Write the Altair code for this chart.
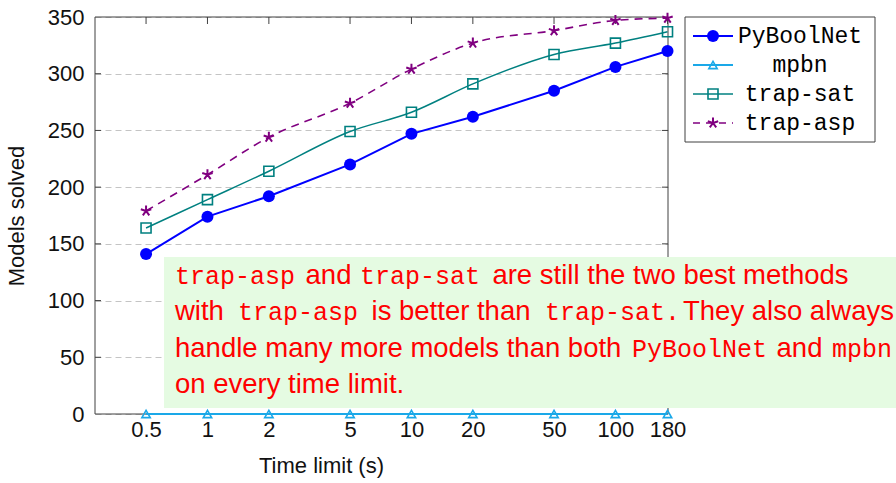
import altair as alt
import pandas as pd

# ---------------- data ----------------
time_limits = [0.5, 1, 2, 5, 10, 20, 50, 100, 180]
pyboolnet = [141, 174, 192, 220, 247, 262, 285, 306, 320]
mpbn = [0, 0, 0, 0, 0, 0, 0, 0, 0]
trap_sat = [164, 189, 214, 249, 266, 291, 317, 327, 337]
trap_asp = [179, 211, 244, 274, 304, 327, 338, 347, 349]
series_names = ["PyBoolNet", "mpbn", "trap-sat", "trap-asp"]
series_values = [pyboolnet, mpbn, trap_sat, trap_asp]
y_tick_values = [0, 50, 100, 150, 200, 250, 300, 350]

# ---------------- layout / style ----------------
W, H = 573, 397
PAD = {"left": 95, "top": 17, "right": 228, "bottom": 69}
SANS = "Liberation Sans"
MONO = "Liberation Mono"
FRAME = "#404040"
STAR = "M0,0L0,-1M0,0L0.951,-0.309M0,0L0.588,0.809M0,0L-0.588,0.809M0,0L-0.951,-0.309"

styles = {
    "PyBoolNet": dict(color="#0000ff", width=2, dash=None, interp="linear",
                      shape="circle", filled=True, size=144, sw=1),
    "mpbn": dict(color="#1aa8e8", width=2, dash=None, interp="linear",
                 shape="triangle-up", filled=False, size=70, sw=1.6),
    "trap-sat": dict(color="#008080", width=1.5, dash=None, interp="monotone",
                     shape="square", filled=False, size=100, sw=1.6),
    "trap-asp": dict(color="#800080", width=1.6, dash=[8, 6], interp="monotone",
                     shape=STAR, filled=False, size=120, sw=2),
}

xscale = alt.Scale(type="log", domain=[0.281, 181], nice=False)
yscale = alt.Scale(domain=[0, 350], nice=False, zero=False)

X_AX = alt.Axis(values=time_limits, format="~g", title="Time limit (s)",
                grid=False, ticks=False, domain=False, labelFont=SANS,
                labelFontSize=22, labelColor="#111", labelPadding=5,
                labelFlush=False, labelOverlap=False,
                titleFont=SANS, titleFontSize=22, titleFontWeight="normal",
                titleColor="#111", titleX=226, titleY=41, titleBaseline="top",
                titleAlign="center")
Y_AX = alt.Axis(values=y_tick_values, title="Models solved", grid=True,
                gridDash=[6, 4], gridColor="#c4c4c4", gridWidth=1,
                ticks=False, domain=False, labelFont=SANS, labelFontSize=22,
                labelColor="#111", labelPadding=11, labelFlush=False,
                titleFont=SANS, titleFontSize=22, titleFontWeight="normal",
                titleColor="#111", titlePadding=19)

one = pd.DataFrame({"k": [0]})

# ---------------- main plot ----------------
main_layers = []

frame_specs = [
    dict(x=alt.value(0), x2=alt.value(0), y=alt.value(0), y2=alt.value(H)),
    dict(x=alt.value(W), x2=alt.value(W), y=alt.value(0), y2=alt.value(H)),
    dict(x=alt.value(0), x2=alt.value(W), y=alt.value(0), y2=alt.value(0)),
    dict(x=alt.value(0), x2=alt.value(W), y=alt.value(H), y2=alt.value(H)),
]
for spec in frame_specs:
    main_layers.append(alt.Chart(one).mark_rule(color=FRAME, strokeWidth=1).encode(**spec))

tick_x_df = pd.DataFrame({"t": time_limits})
tick_y_df = pd.DataFrame({"v": y_tick_values[1:-1]})
main_layers.append(
    alt.Chart(tick_x_df).mark_rule(color=FRAME, strokeWidth=1).encode(
        x=alt.X("t:Q", scale=xscale, axis=X_AX), y=alt.value(0), y2=alt.value(7)))
main_layers.append(
    alt.Chart(tick_y_df).mark_rule(color=FRAME, strokeWidth=1).encode(
        y=alt.Y("v:Q", scale=yscale, axis=Y_AX), x=alt.value(0), x2=alt.value(6)))
main_layers.append(
    alt.Chart(tick_y_df).mark_rule(color=FRAME, strokeWidth=1).encode(
        y=alt.Y("v:Q", scale=yscale, axis=Y_AX), x=alt.value(W - 6), x2=alt.value(W)))

for name, vals in zip(series_names, series_values):
    st = styles[name]
    df = pd.DataFrame({"t": time_limits, "v": vals})
    enc = dict(x=alt.X("t:Q", scale=xscale, axis=X_AX),
               y=alt.Y("v:Q", scale=yscale, axis=Y_AX))
    line_kw = dict(color=st["color"], strokeWidth=st["width"], interpolate=st["interp"])
    if st["dash"]:
        line_kw["strokeDash"] = st["dash"]
    main_layers.append(alt.Chart(df).mark_line(**line_kw).encode(**enc))

for name, vals in zip(series_names, series_values):
    st = styles[name]
    df = pd.DataFrame({"t": time_limits, "v": vals})
    enc = dict(x=alt.X("t:Q", scale=xscale, axis=X_AX),
               y=alt.Y("v:Q", scale=yscale, axis=Y_AX))
    main_layers.append(alt.Chart(df).mark_point(
        shape=st["shape"], filled=st["filled"], color=st["color"], size=st["size"],
        strokeWidth=st["sw"], opacity=1).encode(**enc))

main = alt.layer(*main_layers)

# ---------------- legend ----------------
leg_y = alt.Scale(domain=[0, 3], range=[19, 106])
leg_layers = [alt.Chart(one).mark_rect(fill="white", stroke=FRAME, strokeWidth=1).encode(
    x=alt.value(590), x2=alt.value(780), y=alt.value(0), y2=alt.value(125))]
for i, name in enumerate(series_names):
    st = styles[name]
    df = pd.DataFrame({"row": [i], "name": [name]})
    yenc = alt.Y("row:Q", scale=leg_y, axis=None)
    rule_kw = dict(color=st["color"], strokeWidth=st["width"])
    if st["dash"]:
        rule_kw["strokeDash"] = [7, 6]
    leg_layers.append(alt.Chart(df).mark_rule(**rule_kw).encode(
        y=yenc, x=alt.value(598), x2=alt.value(638)))
    leg_layers.append(alt.Chart(df).mark_point(
        shape=st["shape"], filled=st["filled"], color=st["color"], size=st["size"],
        strokeWidth=st["sw"], opacity=1).encode(y=yenc, x=alt.value(618)))
    leg_layers.append(alt.Chart(df).mark_text(
        font=MONO, fontSize=23, align="center", baseline="middle", color="#000").encode(
        y=yenc, x=alt.value(705), text="name:N"))
legend = alt.layer(*leg_layers)

# ---------------- annotation ----------------
ann_lines_y = [267, 303, 340, 376]
# (line, text, x, font kind, alignment)
ann_segments = [
    (0, "trap-asp", 80, "mono", "left"),
    (0, "and", 233.5, "sans", "center"),
    (0, "trap-sat", 265, "mono", "left"),
    (0, "are still the two best methods", 575.5, "sans", "center"),
    (1, "with", 80, "sans", "left"),
    (1, "trap-asp", 143, "mono", "left"),
    (1, "is better than", 356, "sans", "center"),
    (1, "trap-sat.", 450, "mono", "left"),
    (1, "They also always", 588, "sans", "left"),
    (2, "handle many more models than both", 80, "sans", "left"),
    (2, "PyBoolNet", 537, "mono", "left"),
    (2, "and", 704.5, "sans", "center"),
    (2, "mpbn", 737, "mono", "left"),
    (3, "on every time limit.", 80, "sans", "left"),
]
ann_layers = [alt.Chart(one).mark_rect(fill="#e5fbe2").encode(
    x=alt.value(69), x2=alt.value(801), y=alt.value(240), y2=alt.value(391))]
for line, txt, xpos, kind, al in ann_segments:
    font, size = (MONO, 25) if kind == "mono" else (SANS, 27.5)
    ann_layers.append(alt.Chart(pd.DataFrame({"s": [txt]})).mark_text(
        font=font, fontSize=size, color="#ff0000", align=al,
        baseline="alphabetic").encode(
        x=alt.value(xpos), y=alt.value(ann_lines_y[line]), text="s:N"))
annotation = alt.layer(*ann_layers)

chart = alt.layer(main, legend, annotation).resolve_scale(
    x="independent", y="independent"
).properties(
    width=W, height=H,
    autosize=alt.AutoSizeParams(type="none"),
    padding=PAD,
    background="white",
).configure_view(strokeWidth=0)

chart.save("out.html", embed_options={"renderer": "svg", "actions": False})
